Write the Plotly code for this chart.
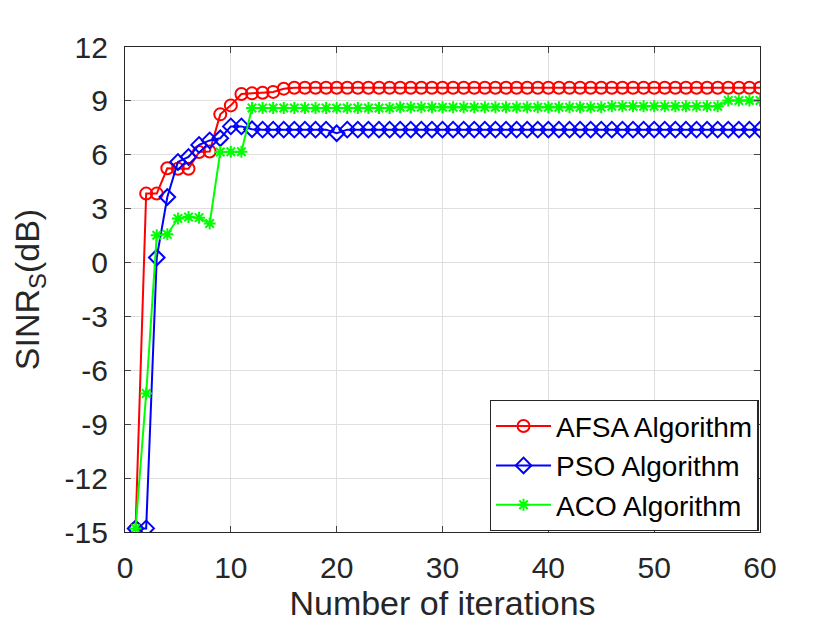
import plotly.graph_objects as go

# iteration index and SINR_S (dB) per algorithm
iterations = list(range(1, 61))

afsa = [-14.8, 3.84, 3.84, 5.25, 5.22, 5.22, 6.15, 6.18, 8.25, 8.75,
        9.38, 9.42, 9.45, 9.5, 9.68] + [9.73] * 45

pso = [-14.8, -14.8, 0.28, 3.65, 5.6, 5.88, 6.55, 6.8, 6.92, 7.58,
       7.58, 7.42, 7.4, 7.4, 7.4, 7.4, 7.4, 7.4, 7.4, 7.2] + [7.4] * 40

aco = [-14.8, -7.29, 1.52, 1.57, 2.45, 2.54, 2.5, 2.17, 6.15, 6.17,
       6.17] + [8.6] * 14 + [8.65] * 20 + [8.7] * 11 + [9.02] * 4

yticks = [-15, -12, -9, -6, -3, 0, 3, 6, 9, 12]
ytick_text = ["-15", "-12", "-9", "-6", "-3", "0", "3", "6", "9", "12"]
xticks = [0, 10, 20, 30, 40, 50, 60]

font_family = "Liberation Sans, Arial, sans-serif"
axis_col = "#262626"

fig = go.Figure()
fig.add_trace(go.Scatter(x=iterations, y=afsa, mode="lines+markers", name="AFSA Algorithm",
                         line=dict(color="#ff0000", width=2),
                         marker=dict(symbol="circle-open", size=12, color="#ff0000",
                                     line=dict(width=2))))
fig.add_trace(go.Scatter(x=iterations, y=pso, mode="lines+markers", name="PSO Algorithm",
                         line=dict(color="#0000ff", width=2),
                         marker=dict(symbol="diamond-open", size=12, color="#0000ff",
                                     line=dict(width=2))))
fig.add_trace(go.Scatter(x=iterations, y=aco, mode="lines+markers", name="ACO Algorithm",
                         line=dict(color="#00ff00", width=2),
                         marker=dict(symbol="asterisk-open", size=10, color="#00ff00",
                                     line=dict(width=2, color="#00ff00"))))

# page body adds an 8px margin, so plot area offsets are shifted by it
fig.update_layout(
    width=840, height=630,
    margin=dict(l=117, r=88, t=39, b=106),
    paper_bgcolor="white", plot_bgcolor="white",
    font=dict(family=font_family, size=30, color=axis_col),
    showlegend=True,
    legend=dict(x=0.998, y=0.002, xanchor="right", yanchor="bottom",
                bgcolor="white", bordercolor=axis_col, borderwidth=1.3,
                font=dict(size=28, color="black"), tracegroupgap=0,
                itemwidth=55),
)
fig.update_xaxes(range=[0, 60], tickvals=xticks, ticks="inside", ticklen=6,
                 ticklabelstandoff=9,
                 showline=True, linecolor=axis_col, linewidth=1.3, mirror="ticks",
                 showgrid=True, gridcolor="#dfdfdf", gridwidth=1, zeroline=False,
                 tickfont=dict(size=30, color=axis_col),
                 title=dict(text="Number of iterations", font=dict(size=34, color=axis_col),
                            standoff=6))
fig.update_yaxes(range=[-15, 12], tickvals=yticks, ticktext=ytick_text,
                 ticks="inside", ticklen=6, ticklabelstandoff=10,
                 showline=True, linecolor=axis_col, linewidth=1.3, mirror="ticks",
                 showgrid=True, gridcolor="#dfdfdf", gridwidth=1, zeroline=False,
                 tickfont=dict(size=30, color=axis_col),
                 title=dict(text="SINR<sub>S</sub>(dB)", font=dict(size=34, color=axis_col),
                            standoff=18))

fig.write_html("out.html")
